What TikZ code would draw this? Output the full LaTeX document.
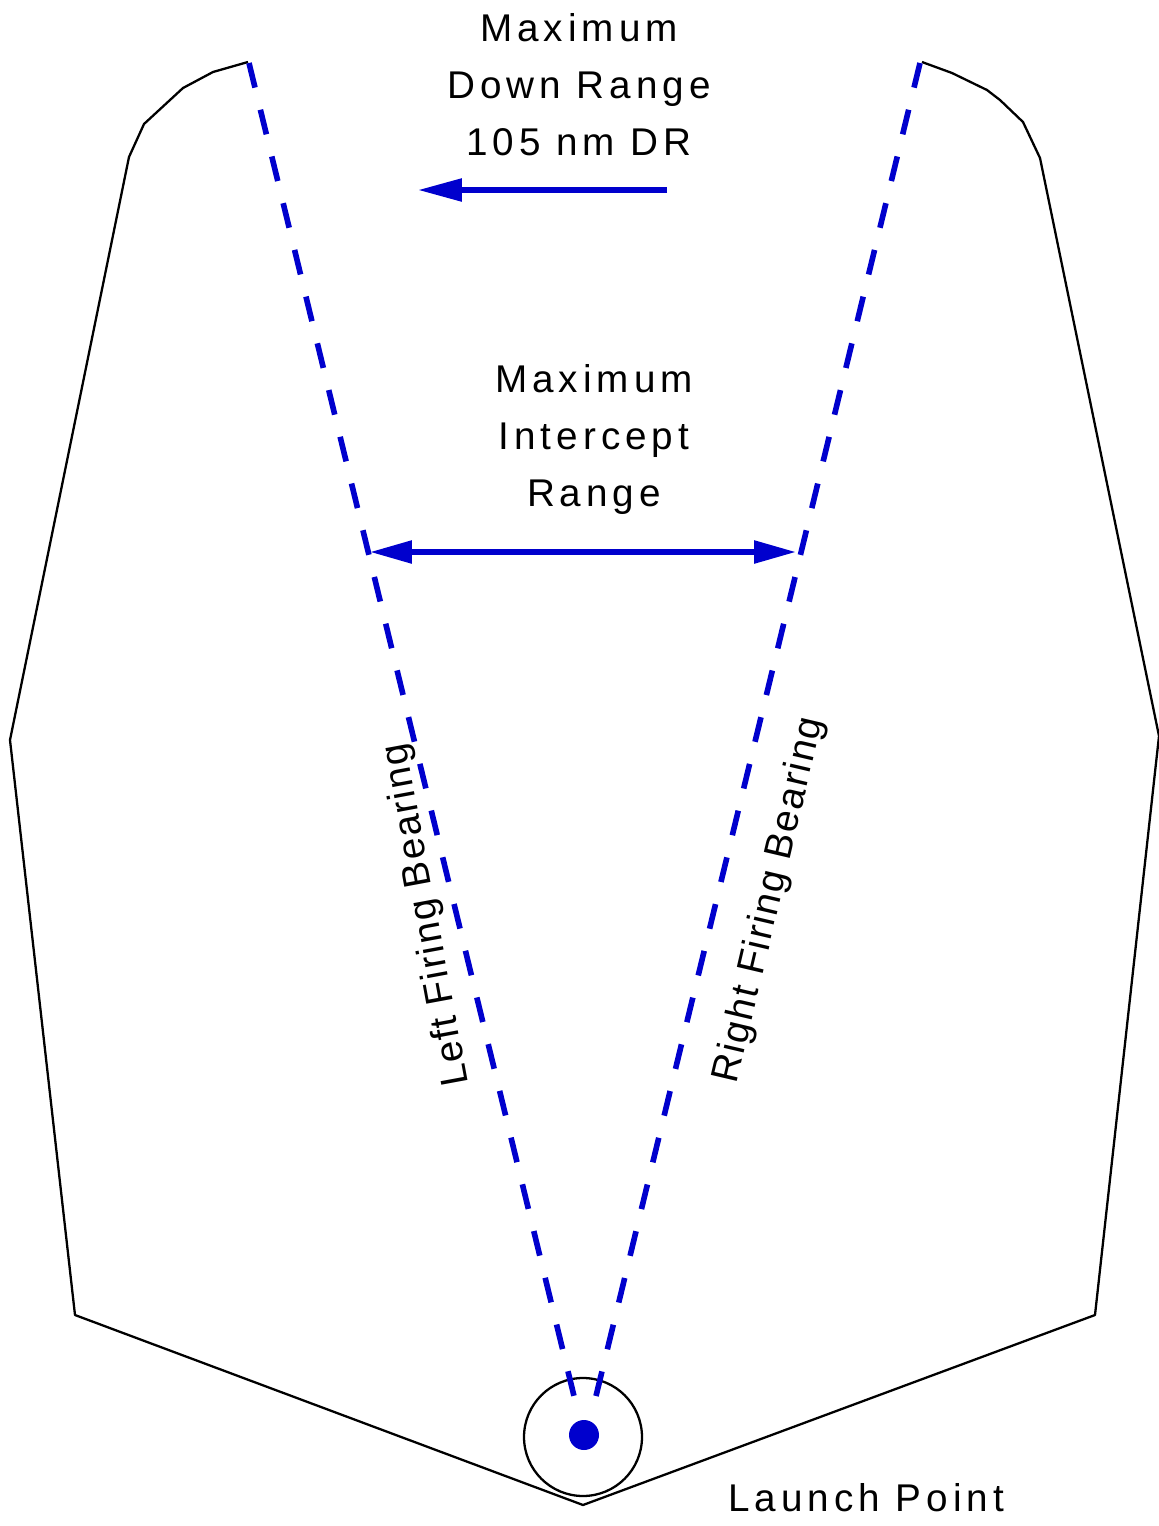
\documentclass[tikz,border=0pt]{standalone}
\usepackage{fontspec}
\newfontfamily\rangefont[LetterSpace=13]{Liberation Sans}
\newfontfamily\bearingfont[LetterSpace=5]{Liberation Sans}
\usetikzlibrary{arrows.meta, positioning}
\definecolor{firingblue}{RGB}{0,0,205}

\begin{document}
\begin{tikzpicture}[x=0.02cm, y=-0.02cm,
    zone/.style={draw=black, line width=1.3pt, line join=round},
    bearing/.style={draw=firingblue, line width=3.2pt, dash pattern=on 0.506cm off 0.456cm},
    rangearrow/.style={draw=firingblue, line width=3.2pt, -{Triangle[length=0.88cm, width=0.44cm]}},
    rangeboth/.style={rangearrow, {Triangle[length=0.84cm, width=0.44cm]}-{Triangle[length=0.84cm, width=0.44cm]}},
    rangetext/.style={font=\rangefont\fontsize{22}{32.4}\selectfont, align=center, inner sep=0pt},
    bearingtext/.style={font=\bearingfont\fontsize{22}{32.4}\selectfont, inner sep=0pt}]
  \useasboundingbox (0,0) rectangle (1159,1526);

  % footprint
  \draw[zone] (248,62) -- (213,72) -- (183,88) -- (144,124) -- (129,157)
    -- (10,740) -- (75,1315) -- (583,1505) -- (1095,1315) -- (1159,736)
    -- (1040,158) -- (1023,122) -- (1000,100) -- (987,90) -- (952,73) -- (922,62);

  \coordinate (lefttop)  at (249,63);
  \coordinate (leftend)  at (574,1396);
  \coordinate (righttop) at (920,63);
  \coordinate (rightend) at (596,1396);
  \coordinate (icleft)   at (370,552);
  \coordinate (icright)  at (796,552);
  \coordinate (drstart)  at (667,190);
  \coordinate (drend)    at (418,190);

  \node[circle, draw, line width=1.3pt, minimum size=2.36cm, inner sep=0pt] (launch) at (583,1437) {};
  \node[circle, fill=firingblue, minimum size=0.6cm, inner sep=0pt] (launchdot) at (584,1435) {};

  \draw[bearing] (lefttop) -- (leftend);
  \draw[bearing] (righttop) -- (rightend);
  \draw[rangearrow] (drstart) -- (drend);
  \draw[rangeboth] (icleft) -- (icright);

  \node[rangetext, anchor=north] (downrange) at (579,13) {Maximum\\Down Range\\105 nm DR};
  \node[rangetext, anchor=north] (intercept) at (594,364) {Maximum\\Intercept\\Range};
  \node[bearingtext, rotate=100.5] (leftbearing) at (427,915) {Left Firing Bearing};
  \node[bearingtext, rotate=76.8] (rightbearing) at (770,900) {Right Firing Bearing};
  \node[rangetext, anchor=base] (launchtext) at (866,1511) {Launch Point};
\end{tikzpicture}
\end{document}
